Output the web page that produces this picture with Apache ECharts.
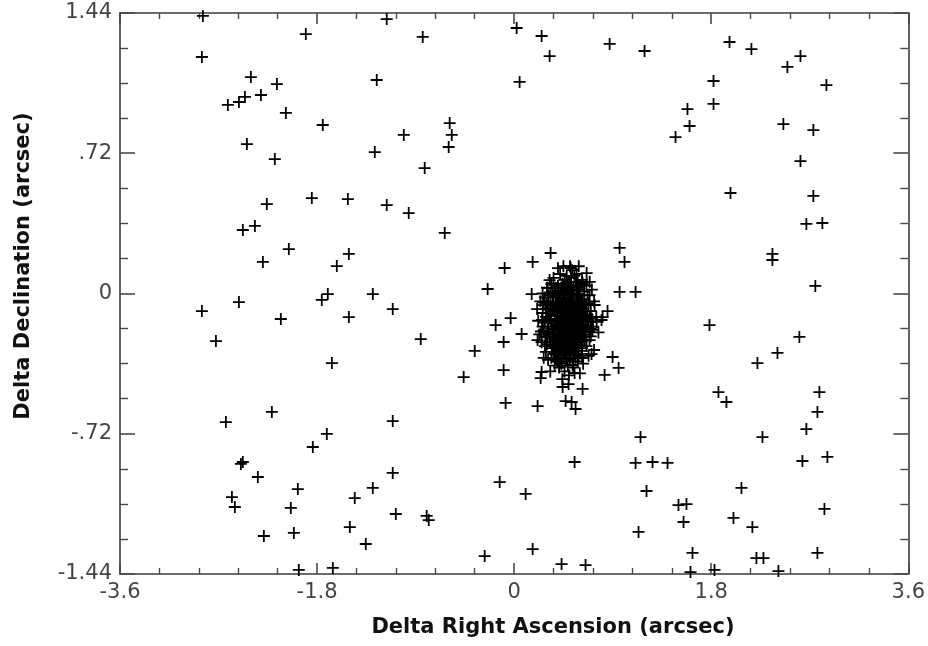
<!DOCTYPE html>
<html>
<head>
<meta charset="utf-8">
<title>Delta RA / Dec offsets</title>
<script src="https://cdn.jsdelivr.net/npm/echarts@6/dist/echarts.min.js"></script>
<style>
  html, body { margin: 0; padding: 0; background: #fff; }
  #chart { width: 928px; height: 646px; }
</style>
</head>
<body>
<div id="chart"></div>
<script>
// Axis ranges and tick labels (arcsec)
const xRange = [-3.6, 3.6];
const yRange = [-1.44, 1.44];
const xMajorStep = 1.8;
const yMajorStep = 0.72;
const xTickLabels = ['-3.6', '-1.8', '0', '1.8', '3.6'];
const yTickLabels = ['-1.44', '-.72', '0', '.72', '1.44'];

// Scattered field detections: [delta RA, delta Dec]
const fieldStars = [
  [-2.843, 1.425], [-1.903, 1.332], [-1.164, 1.409], [-0.835, 1.317], [0.023, 1.363],
  [0.251, 1.322], [0.324, 1.219], [0.872, 1.281], [1.191, 1.245], [1.967, 1.291],
  [2.167, 1.255], [2.615, 1.219], [2.496, 1.163], [-2.852, 1.214], [-2.405, 1.111],
  [-2.167, 1.075], [-2.313, 1.019], [-2.459, 1.009], [-2.514, 0.983], [-2.615, 0.968],
  [-2.085, 0.927], [-1.255, 1.096], [0.050, 1.086], [1.821, 1.091], [2.852, 1.070],
  [1.821, 0.973], [1.583, 0.947], [1.602, 0.860], [1.474, 0.803], [2.459, 0.870],
  [2.733, 0.839], [-1.748, 0.865], [-0.589, 0.875], [-0.570, 0.814], [-1.008, 0.814],
  [-0.598, 0.752], [-2.441, 0.767], [-1.273, 0.726], [-2.186, 0.690], [-0.817, 0.644],
  [2.615, 0.680], [-1.848, 0.490], [-1.519, 0.485], [-1.164, 0.454], [-0.963, 0.413],
  [-2.259, 0.459], [1.976, 0.516], [2.733, 0.501], [-2.478, 0.326], [-2.368, 0.347],
  [-2.058, 0.228], [-2.295, 0.162], [-0.634, 0.311], [-1.510, 0.203], [-1.620, 0.141],
  [-1.702, -0.003], [-1.757, -0.033], [-1.291, -0.003], [-1.109, -0.080], [-1.510, -0.121],
  [-0.853, -0.234], [-1.665, -0.357], [-2.514, -0.044], [-2.852, -0.090], [-2.131, -0.131],
  [-2.724, -0.244], [-2.213, -0.608], [-2.633, -0.660], [-1.109, -0.655], [-1.711, -0.721],
  [-1.839, -0.788], [-2.478, -0.865], [-2.496, -0.875], [-2.341, -0.942], [-1.976, -1.004],
  [-2.578, -1.045], [-2.551, -1.096], [-2.040, -1.101], [-2.286, -1.245], [-2.012, -1.229],
  [-1.967, -1.419], [-1.109, -0.921], [-1.291, -0.998], [-1.456, -1.050], [-1.501, -1.199],
  [-1.355, -1.286], [-1.081, -1.132], [-0.799, -1.142], [-0.780, -1.163], [-0.132, -0.968],
  [0.105, -1.029], [0.552, -0.865], [-0.269, -1.348], [0.169, -1.312], [0.433, -1.389],
  [0.652, -1.394], [-1.656, -1.409], [1.154, -0.737], [1.109, -0.870], [1.264, -0.865],
  [1.401, -0.870], [1.209, -1.014], [1.501, -1.086], [1.574, -1.081], [1.547, -1.173],
  [1.136, -1.224], [1.629, -1.332], [1.611, -1.430], [1.830, -1.419], [2.268, -0.737],
  [2.669, -0.696], [2.633, -0.860], [2.861, -0.839], [2.076, -0.998], [2.003, -1.152],
  [2.176, -1.199], [2.834, -1.106], [2.213, -1.358], [2.277, -1.358], [2.414, -1.425],
  [2.770, -1.332], [2.669, 0.357], [2.815, 0.362], [2.359, 0.203], [2.359, 0.172],
  [2.751, 0.039], [1.784, -0.162], [2.605, -0.223], [2.405, -0.305], [2.222, -0.357],
  [1.866, -0.506], [1.939, -0.557], [2.788, -0.506], [2.770, -0.608], [0.963, 0.234],
  [1.008, 0.162], [0.963, 0.008], [1.109, 0.008], [0.853, -0.090], [0.808, -0.121],
  [0.899, -0.326], [0.954, -0.382], [0.826, -0.418], [0.333, 0.208], [0.169, 0.162],
  [-0.087, 0.131], [-0.242, 0.023], [-0.032, -0.126], [-0.169, -0.162], [0.068, -0.208],
  [-0.096, -0.249], [-0.360, -0.295], [-0.461, -0.429], [-0.096, -0.393], [-0.078, -0.562],
  [0.214, -0.578], [0.251, -0.403], [0.242, -0.434], [0.443, -0.480], [0.497, -0.465],
  [0.625, -0.490], [0.470, -0.552], [0.525, -0.557], [0.561, -0.593], [0.552, -0.408],
  [0.707, -0.311], [0.616, -0.331], [0.516, 0.131], [0.662, 0.105], [0.625, 0.054],
  [0.570, 0.059], [0.324, 0.069], [0.160, -0.003]
];

// Dense clump of detections around the target
const clusterStars = [
  [0.48, -0.12], [0.45, -0.09], [0.51, -0.15], [0.42, -0.14], [0.55, -0.10], [0.39, -0.11], [0.58, -0.13], [0.46, -0.19], [0.50, -0.04], [0.44, -0.22],
  [0.53, -0.20], [0.36, -0.08], [0.61, -0.07], [0.47, -0.03], [0.40, -0.17], [0.56, -0.17], [0.43, -0.05], [0.52, -0.01], [0.49, -0.25], [0.37, -0.20],
  [0.59, -0.22], [0.34, -0.14], [0.63, -0.16], [0.45, -0.15], [0.50, -0.10], [0.54, -0.05], [0.41, -0.02], [0.57, -0.02], [0.48, -0.17], [0.44, -0.11],
  [0.52, -0.12], [0.46, -0.07], [0.38, -0.16], [0.60, -0.10], [0.35, -0.04], [0.62, -0.03], [0.47, -0.28], [0.53, -0.26], [0.40, -0.25], [0.56, -0.24],
  [0.33, -0.10], [0.65, -0.11], [0.42, 0.00], [0.50, 0.01], [0.58, 0.02], [0.36, -0.23], [0.61, -0.20], [0.45, -0.30], [0.51, -0.30], [0.39, -0.29],
  [0.31, -0.17], [0.66, -0.06], [0.43, -0.18], [0.55, -0.14], [0.49, -0.08], [0.47, -0.14], [0.53, -0.09], [0.41, -0.09], [0.57, -0.18], [0.44, -0.26],
  [0.30, -0.05], [0.32, -0.22], [0.64, -0.24], [0.68, -0.14], [0.29, -0.12], [0.37, 0.01], [0.60, 0.04], [0.54, 0.03], [0.46, 0.03], [0.40, 0.04],
  [0.48, -0.32], [0.42, -0.33], [0.56, -0.31], [0.35, -0.28], [0.62, -0.28], [0.27, -0.19], [0.70, -0.09], [0.28, -0.02], [0.67, -0.01], [0.52, -0.22],
  [0.38, -0.05], [0.59, -0.06], [0.45, -0.04], [0.50, -0.18], [0.43, -0.08], [0.55, -0.27], [0.39, -0.21], [0.61, -0.13], [0.34, -0.18], [0.57, -0.08],
  [0.26, -0.10], [0.72, -0.17], [0.33, 0.00], [0.64, 0.01], [0.50, 0.06], [0.44, 0.05], [0.56, 0.06], [0.30, -0.26], [0.66, -0.27], [0.47, -0.35],
  [0.38, -0.34], [0.58, -0.35], [0.25, -0.25], [0.70, -0.22], [0.24, -0.04], [0.73, -0.04], [0.34, 0.05], [0.62, 0.07], [0.48, 0.09], [0.42, 0.10],
  [0.53, 0.12], [0.57, 0.10], [0.66, 0.04], [0.22, -0.14], [0.75, -0.12], [0.29, -0.30], [0.68, -0.32], [0.41, -0.38], [0.54, -0.38], [0.46, -0.40],
  [0.36, 0.08], [0.30, 0.03], [0.71, 0.02], [0.21, -0.08], [0.23, -0.21], [0.77, -0.20], [0.31, -0.34], [0.63, -0.36], [0.50, -0.42], [0.44, -0.44],
  [0.33, -0.40], [0.60, -0.41], [0.26, 0.00], [0.69, 0.06], [0.51, 0.14], [0.45, 0.14], [0.59, 0.14], [0.40, 0.13], [0.27, -0.33], [0.73, -0.29],
  [0.433, -0.357], [0.534, -0.367], [0.370, -0.300], [0.214, -0.239], [0.716, -0.187], [0.689, -0.239], [0.798, -0.136], [0.306, 0.028], [0.488, 0.044],
  [0.625, 0.044], [0.689, -0.008], [0.735, -0.059], [0.753, -0.146],
  [0.40, -0.13], [0.43, -0.16], [0.46, -0.12], [0.49, -0.14], [0.52, -0.17], [0.55, -0.12], [0.58, -0.16], [0.41, -0.07], [0.44, -0.03], [0.47, -0.09],
  [0.50, -0.07], [0.53, -0.03], [0.56, -0.06], [0.59, -0.09], [0.37, -0.13], [0.35, -0.17], [0.38, -0.24], [0.41, -0.21], [0.44, -0.19], [0.47, -0.23],
  [0.50, -0.21], [0.53, -0.24], [0.56, -0.21], [0.59, -0.19], [0.62, -0.12], [0.63, -0.08], [0.39, -0.01], [0.45, 0.01], [0.48, 0.02], [0.51, -0.02],
  [0.54, 0.00], [0.57, 0.03], [0.60, -0.01], [0.36, -0.02], [0.33, -0.06], [0.32, -0.13], [0.35, -0.21], [0.37, -0.27], [0.41, -0.30], [0.44, -0.29],
  [0.49, -0.28], [0.52, -0.29], [0.55, -0.31], [0.58, -0.28], [0.61, -0.25], [0.64, -0.20], [0.65, -0.14], [0.66, -0.09], [0.62, -0.05], [0.46, -0.16],
  [0.42, -0.11], [0.49, -0.11], [0.51, -0.08], [0.54, -0.15], [0.57, -0.11], [0.39, -0.18], [0.43, -0.24], [0.48, -0.20], [0.52, -0.25], [0.56, -0.28],
  [0.60, -0.23], [0.63, -0.18], [0.34, -0.09], [0.31, -0.20], [0.33, -0.25], [0.36, -0.31], [0.40, -0.35], [0.45, -0.33], [0.51, -0.34], [0.54, -0.35],
  [0.59, -0.32], [0.62, -0.31], [0.65, -0.21], [0.67, -0.17], [0.69, -0.12], [0.68, -0.05], [0.64, -0.03], [0.58, 0.06], [0.52, 0.04], [0.43, 0.03],
  [0.38, 0.03], [0.35, 0.01], [0.31, -0.01], [0.29, -0.08], [0.28, -0.15], [0.30, -0.22], [0.42, -0.27], [0.46, -0.25], [0.50, -0.26], [0.54, -0.19],
  [0.57, -0.25], [0.60, -0.16], [0.61, -0.04], [0.55, -0.08], [0.47, -0.06], [0.44, -0.14], [0.41, -0.16], [0.38, -0.09], [0.49, -0.03], [0.53, -0.12],
  [0.46, -0.31], [0.57, -0.14], [0.40, -0.05], [0.51, -0.23], [0.43, -0.36], [0.49, -0.37], [0.56, -0.33], [0.37, -0.37], [0.62, -0.33], [0.66, -0.24],
  [0.70, -0.18], [0.71, -0.13], [0.67, -0.11], [0.27, -0.06], [0.26, -0.17], [0.28, -0.27], [0.34, -0.33], [0.52, 0.08], [0.46, 0.07], [0.55, 0.09],
  [0.385, -0.145], [0.415, -0.185], [0.445, -0.125], [0.475, -0.105], [0.505, -0.135], [0.535, -0.165], [0.565, -0.135], [0.595, -0.115], [0.425, -0.065], [0.455, -0.045],
  [0.485, -0.065], [0.515, -0.045], [0.545, -0.075], [0.575, -0.045], [0.605, -0.055], [0.395, -0.235], [0.425, -0.215], [0.455, -0.235], [0.485, -0.215], [0.515, -0.195],
  [0.545, -0.225], [0.575, -0.205], [0.605, -0.185], [0.365, -0.185], [0.335, -0.115], [0.355, -0.055], [0.635, -0.135], [0.645, -0.055], [0.415, -0.275], [0.475, -0.265],
  [0.535, -0.285], [0.595, -0.265], [0.465, 0.005], [0.525, 0.015], [0.585, -0.005], [0.405, 0.015], [0.365, -0.265], [0.625, -0.225], [0.305, -0.135], [0.315, -0.075],
  [0.255, -0.135], [0.245, -0.195], [0.285, -0.225], [0.265, -0.045], [0.685, -0.195], [0.655, -0.165], [0.705, -0.145], [0.455, -0.175], [0.505, -0.175], [0.435, -0.095],
  [0.495, -0.235], [0.565, -0.095], [0.385, -0.075], [0.525, -0.065], [0.445, -0.305], [0.505, -0.315], [0.565, -0.295], [0.385, -0.315], [0.615, -0.295], [0.475, -0.335]
];

// Plus-shaped marker outline (filled), arms 12 units long and 1.8 units thick
const plusMarker = 'path://M-0.9,-6H0.9V-0.9H6V0.9H0.9V6H-0.9V0.9H-6V-0.9H-0.9Z';

const axisColor = '#3c3c3c';
const tickColor = '#4a4a4a';
const labelFont = { color: '#444', fontSize: 21, fontFamily: 'DejaVu Sans' };

function labelFor(labels, min, step) {
  return function (v) {
    const i = Math.round((v - min) / step);
    return labels[i] !== undefined ? labels[i] : '';
  };
}

function makeAxis(range, step, minorSplit, majorLen, minorLen, position, labels, showLabels) {
  return {
    type: 'value',
    position: position,
    min: range[0],
    max: range[1],
    interval: step,
    axisLine: { show: true, onZero: false, lineStyle: { color: axisColor, width: 1.6 } },
    axisTick: { show: true, inside: true, length: majorLen, lineStyle: { color: tickColor, width: 1.6 } },
    minorTick: { show: true, splitNumber: minorSplit, length: minorLen, lineStyle: { color: tickColor, width: 1.4 } },
    splitLine: { show: false },
    minorSplitLine: { show: false },
    axisLabel: Object.assign({
      show: showLabels,
      margin: 8,
      formatter: labelFor(labels, range[0], step)
    }, labelFont)
  };
}

const chart = echarts.init(document.getElementById('chart'), null, { renderer: 'canvas' });

const markerSeries = (name, data) => ({
  name: name,
  type: 'scatter',
  xAxisIndex: 0,
  yAxisIndex: 0,
  data: data,
  symbol: plusMarker,
  symbolSize: 12,
  clip: false,
  itemStyle: { color: '#000', opacity: 1 },
  emphasis: { disabled: true }
});

chart.setOption({
  animation: false,
  backgroundColor: '#ffffff',
  grid: { left: 120, top: 13, width: 789, height: 561, containLabel: false },
  xAxis: [
    makeAxis(xRange, xMajorStep, 5, 11, 6, 'bottom', xTickLabels, true),
    makeAxis(xRange, xMajorStep, 5, 11, 6, 'top', xTickLabels, false)
  ],
  yAxis: [
    makeAxis(yRange, yMajorStep, 4, 15, 8, 'left', yTickLabels, true),
    makeAxis(yRange, yMajorStep, 4, 15, 8, 'right', yTickLabels, false)
  ],
  graphic: [
    {
      type: 'text',
      x: 553, y: 628,
      style: {
        text: 'Delta Right Ascension (arcsec)',
        fill: '#111',
        font: 'bold 21px "DejaVu Sans"',
        textAlign: 'center',
        textVerticalAlign: 'middle'
      }
    },
    {
      type: 'text',
      x: 24, y: 266,
      rotation: Math.PI / 2,
      style: {
        text: 'Delta Declination (arcsec)',
        fill: '#111',
        font: 'bold 21px "DejaVu Sans"',
        textAlign: 'center',
        textVerticalAlign: 'middle'
      }
    }
  ],
  series: [
    markerSeries('field', fieldStars),
    markerSeries('cluster', clusterStars)
  ]
});
</script>
</body>
</html>
